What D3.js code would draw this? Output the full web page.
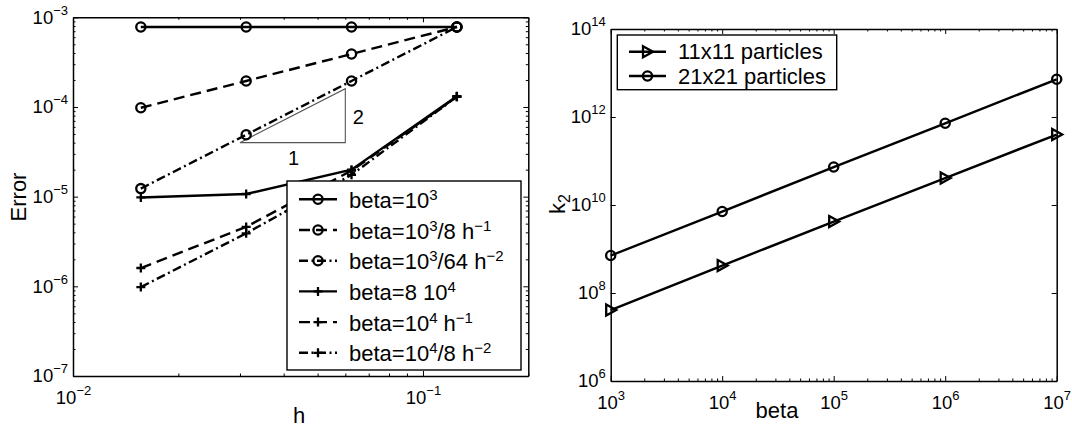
<!DOCTYPE html>
<html>
<head>
<meta charset="utf-8">
<script src="https://cdn.jsdelivr.net/npm/d3@7"></script>
<style>body{margin:0;background:#fff}</style>
</head>
<body>
<div id="vis"></div>
<script>
const WIDTH = 1072, HEIGHT = 429;

// left panel: error against h
const hVals = [1/64, 1/32, 1/16, 1/8];
const errB1 = [7.8e-4, 7.8e-4, 7.8e-4, 7.8e-4];
const errB2 = [9.8e-5, 1.95e-4, 3.9e-4, 7.8e-4];
const errB3 = [1.23e-5, 4.9e-5, 1.95e-4, 7.8e-4];
const errB4 = [9.8e-6, 1.07e-5, 2.0e-5, 1.32e-4];
const errB5 = [1.6e-6, 4.6e-6, 1.95e-5, 1.3e-4];
const errB6 = [9.8e-7, 3.9e-6, 1.75e-5, 1.3e-4];
// legend labels, pieces flagged 1 are superscripts
const leftLabels = [
  [["beta=10", 0], ["3", 1]],
  [["beta=10", 0], ["3", 1], ["/8 h", 0], ["\u22121", 1]],
  [["beta=10", 0], ["3", 1], ["/64 h", 0], ["\u22122", 1]],
  [["beta=8 10", 0], ["4", 1]],
  [["beta=10", 0], ["4", 1], [" h", 0], ["\u22121", 1]],
  [["beta=10", 0], ["4", 1], ["/8 h", 0], ["\u22122", 1]]
];
const slopeTri = [[0.03, 4e-5], [0.06, 4e-5], [0.06, 1.6e-4], [0.03, 4e-5]];

// right panel: k2 against beta
const betaVals = [1e3, 1e4, 1e5, 1e6, 1e7];
const k2_11 = [4.1e7, 4.2e8, 4.2e9, 4.1e10, 4.0e11];
const k2_21 = [7.1e8, 7.1e9, 7.3e10, 7.2e11, 7.2e12];
const rightLabels = ["11x11 particles", "21x21 particles"];

const FONT = "'Liberation Sans', Arial, Helvetica, sans-serif";
const DASH = {solid: null, dash: "11,6", dashdot: "9,3.5,2,3.5"};
const LW = 2.4;

const svg = d3.select('#vis').append('svg')
    .attr('width', WIDTH).attr('height', HEIGHT)
    .style('font-family', FONT);

// writes "10^n" style text into a text node
function powLabel(sel, d) {
  sel.text(null);
  sel.append('tspan').text('10');
  sel.append('tspan').attr('dy', -9).attr('font-size', 13)
     .text(String(Math.round(Math.log10(d))).replace('-', '\u2212'));
}

function richText(sel, pieces, supSize, rise) {
  let up = false;
  pieces.forEach(([t, s]) => {
    const ts = sel.append('tspan').text(t);
    if (s && !up) { ts.attr('dy', -rise).attr('font-size', supSize); up = true; }
    else if (s) { ts.attr('font-size', supSize); }
    else if (!s && up) { ts.attr('dy', rise); up = false; }
  });
}

function frame(g, x, y, xMajor, xMinor, yMajor, yMinor) {
  const [x0, x1] = x.range(), [y1, y0] = y.range();
  const fmt = () => '';
  const sides = [
    [d3.axisBottom, x, xMajor, xMinor, y1, true],
    [d3.axisTop, x, xMajor, xMinor, y0, false],
    [d3.axisLeft, y, yMajor, yMinor, x0, true],
    [d3.axisRight, y, yMajor, yMinor, x1, false]
  ];
  sides.forEach(([fn, sc, maj, mnr, pos, lab]) => {
    const horiz = (fn === d3.axisBottom || fn === d3.axisTop);
    const tr = horiz ? `translate(0,${pos})` : `translate(${pos},0)`;
    g.append('g').attr('transform', tr)
      .call(fn(sc).tickValues(mnr).tickFormat(fmt).tickSizeInner(-2.5).tickSizeOuter(0))
      .call(a => a.select('.domain').remove())
      .selectAll('line').attr('stroke', '#000').attr('stroke-width', 1);
    const ax = g.append('g').attr('transform', tr)
      .call(fn(sc).tickValues(maj).tickSizeInner(-5).tickSizeOuter(0).tickPadding(5))
      .attr('font-size', 18.5).attr('font-family', FONT);
    ax.select('.domain').attr('stroke', '#000').attr('stroke-width', 1.5);
    ax.selectAll('.tick line').attr('stroke', '#000').attr('stroke-width', 1);
    if (lab) {
      ax.selectAll('.tick text').attr('fill', '#000').each(function(d) { powLabel(d3.select(this), d); });
      if (horiz) ax.selectAll('.tick text').attr('y', 28).attr('dy', 0);
    } else {
      ax.selectAll('.tick text').remove();
    }
  });
}

function minorsOf(lo, hi, extra) {
  const out = [];
  for (let e = lo; e < hi; e++) for (let m = 2; m <= 9; m++) out.push(m * Math.pow(10, e));
  return out.concat(extra || []);
}

function marker(sel, type) {
  if (type === 'o') {
    sel.append('circle').attr('r', 4.6).attr('fill', 'none').attr('stroke', '#000').attr('stroke-width', 2.3);
  } else if (type === '+') {
    sel.append('path').attr('d', 'M-4.5,0H4.5M0,-4.5V4.5').attr('stroke', '#000').attr('stroke-width', 2.3);
  } else {
    sel.append('path').attr('d', 'M-4.5,-5.5L5.5,0L-4.5,5.5Z').attr('fill', 'none')
       .attr('stroke', '#000').attr('stroke-width', 2.3).attr('stroke-linejoin', 'miter');
  }
}

function series(g, x, y, xs, ys, style, mk) {
  const pts = xs.map((v, i) => [v, ys[i]]);
  g.append('path').datum(pts)
    .attr('d', d3.line().x(d => x(d[0])).y(d => y(d[1])))
    .attr('fill', 'none').attr('stroke', '#000').attr('stroke-width', LW)
    .attr('stroke-dasharray', DASH[style]);
  g.selectAll(null).data(pts).join('g')
    .attr('transform', d => `translate(${x(d[0])},${y(d[1])})`)
    .call(s => s.each(function() { marker(d3.select(this), mk); }));
}

// ---------- left panel ----------
const xL = d3.scaleLog().domain([0.01, 0.2]).range([73, 528.3]);
const yL = d3.scaleLog().domain([1e-7, 1e-3]).range([376, 17.3]);
const gL = svg.append('g');

gL.append('path').datum(slopeTri)
  .attr('d', d3.line().x(d => xL(d[0])).y(d => yL(d[1])))
  .attr('fill', 'none').attr('stroke', '#555').attr('stroke-width', 1.1);
gL.append('text').attr('x', xL(Math.sqrt(0.03 * 0.06)) + 1).attr('y', yL(4e-5) + 22)
  .attr('text-anchor', 'middle').attr('font-size', 20).text('1');
gL.append('text').attr('x', xL(0.06) + 13).attr('y', yL(8e-5) + 8)
  .attr('text-anchor', 'middle').attr('font-size', 20).text('2');

const leftSeries = [
  [errB1, 'solid', 'o'], [errB2, 'dash', 'o'], [errB3, 'dashdot', 'o'],
  [errB4, 'solid', '+'], [errB5, 'dash', '+'], [errB6, 'dashdot', '+']
];
leftSeries.forEach(([ys, st, mk]) => series(gL, xL, yL, hVals, ys, st, mk));

frame(gL, xL, yL, [0.01, 0.1], minorsOf(-2, -1, [0.2]), [1e-7, 1e-6, 1e-5, 1e-4, 1e-3], minorsOf(-7, -3));

// left legend
const legL = gL.append('g');
legL.append('rect').attr('x', 287).attr('y', 181).attr('width', 234).attr('height', 189)
  .attr('fill', '#fff').attr('stroke', '#000').attr('stroke-width', 1.4);
leftSeries.forEach(([ys, st, mk], i) => {
  const cy = 199.3 + i * 30.7;
  legL.append('line').attr('x1', 299).attr('x2', 337).attr('y1', cy).attr('y2', cy)
    .attr('stroke', '#000').attr('stroke-width', LW).attr('stroke-dasharray', DASH[st]);
  marker(legL.append('g').attr('transform', `translate(318,${cy})`), mk);
  const t = legL.append('text').attr('x', 349).attr('y', cy + 8.5).attr('font-size', 22);
  richText(t, leftLabels[i], 15, 8);
});

svg.append('text').attr('transform', 'translate(26,197) rotate(-90)')
  .attr('text-anchor', 'middle').attr('font-size', 22).text('Error');
svg.append('text').attr('x', 299).attr('y', 423)
  .attr('text-anchor', 'middle').attr('font-size', 22).text('h');

// ---------- right panel ----------
const xR = d3.scaleLog().domain([1e3, 1e7]).range([610.7, 1056.7]);
const yR = d3.scaleLog().domain([1e6, 1e14]).range([381, 29]);
const gR = svg.append('g');

const rightSeries = [[k2_11, 'solid', '>'], [k2_21, 'solid', 'o']];
rightSeries.forEach(([ys, st, mk]) => series(gR, xR, yR, betaVals, ys, st, mk));

frame(gR, xR, yR, [1e3, 1e4, 1e5, 1e6, 1e7], minorsOf(3, 7), [1e6, 1e8, 1e10, 1e12, 1e14], []);

const legR = gR.append('g');
legR.append('rect').attr('x', 617.3).attr('y', 35).attr('width', 219.4).attr('height', 54.7)
  .attr('fill', '#fff').attr('stroke', '#000').attr('stroke-width', 1.4);
rightSeries.forEach(([ys, st, mk], i) => {
  const cy = 51.7 + i * 24.3;
  legR.append('line').attr('x1', 629).attr('x2', 666).attr('y1', cy).attr('y2', cy)
    .attr('stroke', '#000').attr('stroke-width', LW);
  marker(legR.append('g').attr('transform', `translate(647.5,${cy})`), mk);
  legR.append('text').attr('x', 678).attr('y', cy + 7.5).attr('font-size', 22).text(rightLabels[i]);
});

const k2 = svg.append('text').attr('transform', 'translate(565,204) rotate(-90)')
  .attr('text-anchor', 'middle').attr('font-size', 22);
k2.append('tspan').text('k');
k2.append('tspan').attr('dy', 5).attr('font-size', 16).text('2');
svg.append('text').attr('x', 777).attr('y', 418)
  .attr('text-anchor', 'middle').attr('font-size', 22).text('beta');
</script>
</body>
</html>
